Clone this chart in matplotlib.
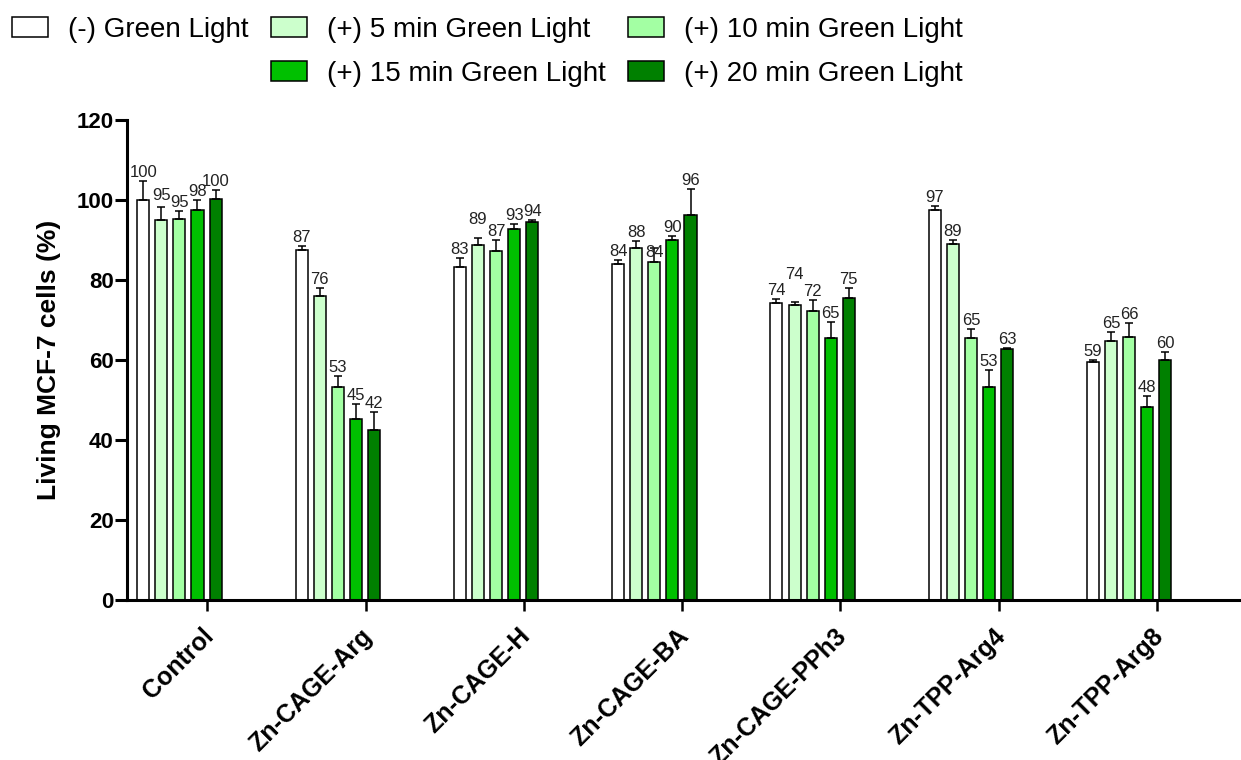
import matplotlib
matplotlib.use("Agg")
import matplotlib.pyplot as plt
import numpy as np
from matplotlib.patches import Rectangle

plt.rcParams["font.family"] = ["Liberation Sans", "DejaVu Sans"]

# ---- data -------------------------------------------------------------
groups = ["Control", "Zn-CAGE-Arg", "Zn-CAGE-H", "Zn-CAGE-BA",
          "Zn-CAGE-PPh3", "Zn-TPP-Arg4", "Zn-TPP-Arg8"]

series_labels = ["(-) Green Light", "(+) 5 min Green Light",
                 "(+) 10 min Green Light", "(+) 15 min Green Light",
                 "(+) 20 min Green Light"]

no_light = [100.1, 87.4, 83.2, 84.0, 74.3, 97.4, 59.4]
light_5 = [94.9, 76.0, 88.8, 87.9, 73.8, 88.9, 64.8]
light_10 = [95.3, 53.3, 87.3, 84.4, 72.3, 65.4, 65.8]
light_15 = [97.6, 45.3, 92.8, 90.1, 65.4, 53.3, 48.2]
light_20 = [100.2, 42.4, 94.4, 96.3, 75.4, 62.8, 60.0]

no_light_sd = [4.7, 1.0, 2.2, 0.9, 0.9, 1.1, 0.7]
light_5_sd = [3.3, 2.1, 1.8, 1.9, 0.7, 1.0, 2.3]
light_10_sd = [2.0, 2.8, 2.8, 3.5, 2.7, 2.3, 3.5]
light_15_sd = [2.5, 3.6, 1.2, 0.9, 4.1, 4.1, 2.8]
light_20_sd = [2.3, 4.5, 0.6, 6.5, 2.6, 0.3, 2.0]

y_ticks = [0, 20, 40, 60, 80, 100, 120]

# ---- styling ----------------------------------------------------------
colors = ["#FFFFFF", "#CCFFCC", "#A3FFA3", "#00C000", "#008000"]
values = [no_light, light_5, light_10, light_15, light_20]
errors = [no_light_sd, light_5_sd, light_10_sd, light_15_sd, light_20_sd]

# vertical nudges (pixels) for a few value labels to keep them readable
label_nudge_px = {(1, 0): 3, (1, 2): 10, (1, 4): 19, (2, 3): -13}

W, H = 1241, 760
fig = plt.figure(figsize=(W / 100, H / 100), dpi=100)
ax = fig.add_axes([127 / W, 1 - 600 / H, (W - 127) / W, 480 / H])

pitch = 0.1143
bar_w = 0.076
group_shift = -0.176
x = np.arange(len(groups))

for j, (vals, errs, col) in enumerate(zip(values, errors, colors)):
    xpos = x + group_shift + (j - 2) * pitch
    ax.bar(xpos, vals, width=bar_w, color=col, edgecolor="black",
           linewidth=1.1, zorder=2, label=series_labels[j])
    ax.errorbar(xpos, vals, yerr=[np.zeros(len(vals)), errs], fmt="none",
                ecolor="black", elinewidth=1.1, capsize=2.6, capthick=1.1,
                zorder=3)
    for i, (xv, v, e) in enumerate(zip(xpos, vals, errs)):
        dy = (4 + label_nudge_px.get((j, i), 0)) * 0.72
        ax.annotate(f"{v:.0f}", (xv, v + e), xytext=(0, dy),
                    textcoords="offset points", ha="center", va="baseline",
                    fontsize=12, color="#222222", zorder=4)

ax.set_xlim(-0.507, 6.530)
ax.set_ylim(0, 120)
ax.set_yticks(y_ticks)
ax.set_yticklabels([str(t) for t in y_ticks], fontsize=16, fontweight="bold")
ax.set_xticks(x)
ax.set_xticklabels([])

# rotated category names, anchored at their upper-right end below each tick
for xi, name in zip(x, groups):
    ax.annotate(name, (xi, 0), xycoords=("data", "axes fraction"),
                xytext=(-6 * 0.72, -24 * 0.72), textcoords="offset points",
                fontsize=18, fontweight="bold", rotation=45, ha="right",
                va="top", rotation_mode="anchor", annotation_clip=False)

for side in ("top", "right"):
    ax.spines[side].set_visible(False)
for side in ("left", "bottom"):
    ax.spines[side].set_linewidth(2.2)
ax.tick_params(axis="y", length=8.6, width=2.2, pad=1)
ax.tick_params(axis="x", length=8, width=1.8, pad=6)

fig.text(49 / W, 1 - 360 / H, "Living MCF-7 cells (%)", rotation=90,
         ha="center", va="center", fontsize=19, fontweight="bold")

# legend laid out as two rows with the first slot of row two left empty
handles, labels = ax.get_legend_handles_labels()
blank = Rectangle((0, 0), 1, 1, fill=False, edgecolor="none", linewidth=0)
order_h = [handles[0], blank, handles[1], handles[3], handles[2], handles[4]]
order_l = [labels[0], "", labels[1], labels[3], labels[2], labels[4]]
leg = fig.legend(order_h, order_l, ncol=3, loc="upper left",
                 bbox_to_anchor=(12 / W, 1 - 17 / H), frameon=False,
                 fontsize=20, handlelength=1.3, handleheight=0.72,
                 handletextpad=0.72, columnspacing=0.8, labelspacing=0.65,
                 borderpad=0, borderaxespad=0)

fig.savefig("out.png", dpi=100)
